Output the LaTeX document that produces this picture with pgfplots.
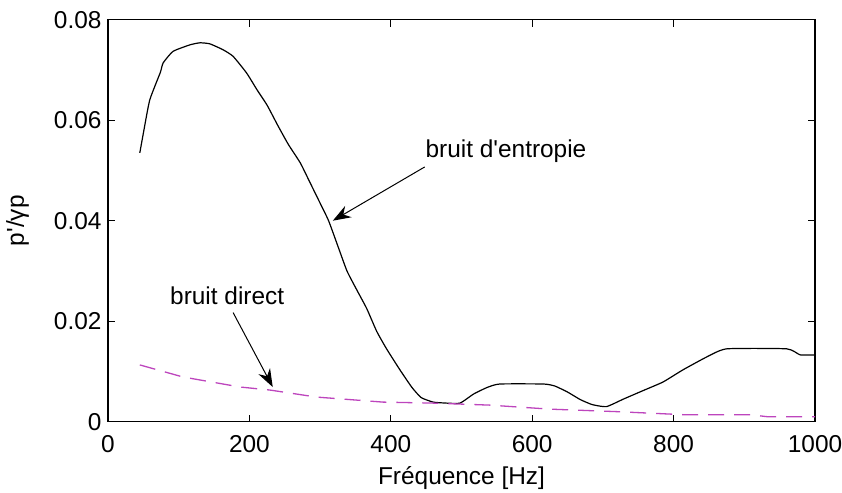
\documentclass[border=0pt]{standalone}
\usepackage{fontspec}
\setmainfont{Liberation Sans}[Ligatures=TeXOff]
\usepackage{pgfplots}
\pgfplotsset{compat=1.18}
\usetikzlibrary{arrows.meta}
\definecolor{mag}{rgb}{0.74,0.27,0.74}
\begin{document}
\begin{tikzpicture}
\begin{axis}[
  name=ax,
  scale only axis,
  width=707bp, height=402bp,
  xmin=0, xmax=1000, ymin=0, ymax=0.08,
  xtick={0,200,400,600,800,1000},
  xticklabels={0,200,400,600,800,1000},
  ytick={0,0.02,0.04,0.06,0.08},
  yticklabels={0,0.02,0.04,0.06,0.08},
  scaled ticks=false,
  tick align=inside,
  major tick length=7bp,
  axis line style={line width=1.5bp, black},
  tick style={line width=1.2bp, black},
  font=\fontsize{24.5}{28}\selectfont,
  ticklabel style={font=\fontsize{24.5}{28}\selectfont},
  xticklabel style={anchor=base, yshift=-31bp},
  yticklabel style={xshift=-3bp},
  xlabel={Fréquence [Hz]},
  ylabel={p'/γp},
  xlabel style={at={(axis description cs:0.5,0)}, anchor=base, yshift=-63bp, inner sep=0pt},
  ylabel style={at={(axis description cs:-0.119,0.5)}, anchor=base, inner sep=0pt},
  clip=false,
]
\addplot[black, line width=1.2bp, smooth, tension=0.3] coordinates {
(45,0.0535) (50,0.0574) (59,0.0640) (74,0.0695) (78,0.0714) (92,0.0737)
(116,0.0750) (130,0.0754) (144,0.0752) (163,0.0740) (177,0.0727) (196,0.0694)
(211,0.0660) (225,0.0630) (240,0.0590) (255,0.0552) (272,0.0515) (285,0.0478)
(300,0.0435) (312,0.0400) (325,0.0350) (338,0.0300) (352,0.0262) (366,0.0225)
(380,0.0180) (394,0.0145) (413,0.0103) (430,0.0068) (443,0.0048) (460,0.0039)
(479,0.0037) (498,0.0037) (517,0.0055) (536,0.0068) (554,0.0075) (616,0.0075)
(632,0.0071) (650,0.0059) (668,0.0044) (685,0.0034) (705,0.0030) (729,0.0045)
(757,0.0062) (785,0.0079) (813,0.0103) (847,0.0129) (875,0.0145) (960,0.0145)
(979,0.0133) (1000,0.0133)
};
\addplot[mag, line width=1.3bp, dash pattern=on 16bp off 10bp] coordinates {
(45,0.0113) (106,0.0089) (187,0.0069) (229,0.0063) (295,0.0049) (389,0.0039)
(460,0.0037) (540,0.0033) (625,0.0025) (720,0.0020) (813,0.0014) (908,0.0014)
(932,0.0010) (1000,0.0010)
};
\node[anchor=base west, inner sep=0pt, font=\fontsize{24.5}{28}\selectfont] at (axis cs:449,0.05253) {bruit d'entropie};
\node[anchor=base west, inner sep=0pt, font=\fontsize{24.5}{28}\selectfont] at (axis cs:87.7,0.02325) {bruit direct};
\draw[line width=1bp, -{Stealth[length=18bp,width=13bp]}] (axis cs:448,0.0507) -- (axis cs:318,0.0400);
\draw[line width=1bp, -{Stealth[length=18bp,width=13bp]}] (axis cs:177,0.0217) -- (axis cs:233,0.0069);
\end{axis}
\pgfresetboundingbox
\path ([xshift=-108bp,yshift=-71.3bp]ax.south west) rectangle ++(842bp,493bp);
\end{tikzpicture}
\end{document}
